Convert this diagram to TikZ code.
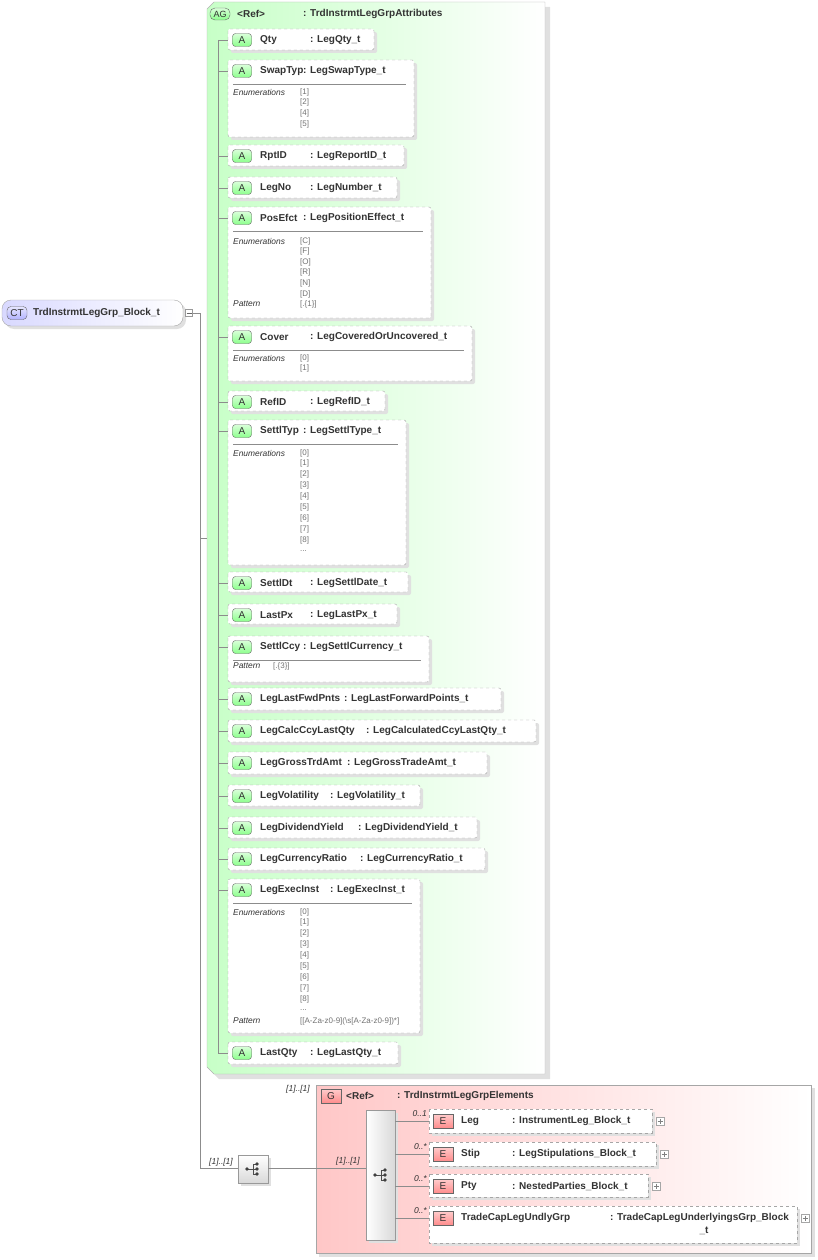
\documentclass[tikz,border=0pt]{standalone}
\usepackage{fontspec}
\setmainfont{Liberation Sans}
\newcommand\myabox[6]{%
 \fill[black!12,rounded corners=2] (231,{#1+3}) rectangle ({#3+3},{#2+3});
 \draw[dbox] (228,#1) rectangle (#3,#2);
 \node[aicon] at (242,{#1+11}) {A};
 \node[lbl,anchor=west] at (260,{#1+11}) {#4};
 \node[lbl,anchor=west] at (#5,{#1+11}) {: #6};
 \draw[ln] (218,{#1+11}) -- (228,{#1+11});}
\newcommand\mysep[2]{\draw[black!45] (233,{#1+24}) -- ({#2-8},{#1+24});}
\newcommand\myenum[1]{\node[smi] at (233,#1) {Enumerations};}
\newcommand\myval[2]{\node[sm] at (300,#1) {#2};}
\newcommand\myseqicon[2]{\begin{scope}[shift={(#1,#2)}]
 \draw[black!70,line width=0.7] (-6,0) -- (0,0) (0,-5) -- (0,5) (0,-5) -- (4,-5) (0,0)--(4,0) (0,5)--(4,5);
 \fill[black!75] (-6,0) circle (1.8) (4,-5) circle (1.8) (4,0) circle (1.8) (4,5) circle (1.8);
 \end{scope}}
\newcommand\myebox[7]{%
 \fill[black!12] (432,{#1+3}) rectangle ({#3+3},{#2+3});
 \draw[dbox,sharp corners] (429,#1) rectangle (#3,#2);
 \node[eicon] at (443,{#1+12}) {E};
 \node[lbl,anchor=west] at (461,{#1+12}) {#4};
 \node[lbl,anchor=west] at (#5,{#1+12}) {#6};
 \draw[ln] (395,{#1+12}) -- (429,{#1+12});
 \node[card,anchor=east] at (427,{#1+5}) {#7};
 \draw[black!35,fill=white] ({#3+4},{#1+8}) rectangle ({#3+12},{#1+16});
 \draw[black!50] ({#3+5.5},{#1+12}) -- ({#3+10.5},{#1+12}) ({#3+8},{#1+9.5}) -- ({#3+8},{#1+14.5});}
\begin{document}
\begin{tikzpicture}[x=1pt,y=-1pt,
 lbl/.style={inner sep=0,font=\fontsize{10}{12}\selectfont\bfseries,text=black!80},
 sm/.style={inner sep=0,font=\fontsize{8}{9}\selectfont,text=black!55,anchor=west},
 smi/.style={inner sep=0,font=\fontsize{8.4}{9}\selectfont\itshape,text=black!80,anchor=west},
 card/.style={inner sep=0,font=\fontsize{8.5}{9}\selectfont\itshape,text=black!80},
 aicon/.style={draw=black!60,top color=green!15!white,bottom color=green!45!white,rounded corners=3,minimum width=19,minimum height=13,inner sep=0,font=\fontsize{10}{11}\selectfont,text=black!80},
 eicon/.style={draw=black!60,top color=red!20!white,bottom color=red!45!white,minimum width=20,minimum height=14,inner sep=0,font=\fontsize{10}{11}\selectfont,text=black!80},
 ln/.style={draw=black!45,line width=0.6},
 dbox/.style={draw=black!35,dashed,fill=white,rounded corners=2}]
\useasboundingbox (0,0) rectangle (818,1260);
% AG container
\fill[black!12] (212,7) -- (550,7) -- (550,1079) -- (219,1079) -- (212,1072) -- cycle;
\shade[left color=green!22!white,right color=white,draw=black!30]
 (214,2) -- (545,2) -- (545,1074) -- (214,1074) -- (207,1067) -- (207,9) -- cycle;
\node[aicon,rounded corners=5,minimum width=20,minimum height=12,font=\fontsize{9}{10}\selectfont] (ag) at (220,14) {AG};
\node[lbl,anchor=west] (agref) at (237,14) {<Ref>};
\node[lbl,anchor=west] (agtype) at (303,14) {: TrdInstrmtLegGrpAttributes};
\draw[ln] (218,40) -- (218,1053);
\myabox{29}{50}{374}{Qty}{310}{LegQty\_t}
\myabox{60}{137}{414}{SwapTyp}{303}{LegSwapType\_t}\mysep{60}{414}
\myenum{92}\myval{92}{[1]}\myval{102.7}{[2]}\myval{113.4}{[4]}\myval{124.1}{[5]}
\myabox{145}{166}{404}{RptID}{310}{LegReportID\_t}
\myabox{177}{198}{397}{LegNo}{310}{LegNumber\_t}
\myabox{207}{318}{431}{PosEfct}{303}{LegPositionEffect\_t}\mysep{207}{431}
\myenum{241}\myval{241}{[C]}\myval{251.6}{[F]}\myval{262.2}{[O]}\myval{272.8}{[R]}\myval{283.4}{[N]}\myval{294}{[D]}
\node[smi] at (233,304) {Pattern};\myval{304}{[.\{1\}]}
\myabox{326}{381}{472}{Cover}{310}{LegCoveredOrUncovered\_t}\mysep{326}{472}
\myenum{358}\myval{358}{[0]}\myval{368.5}{[1]}
\myabox{391}{411}{385}{RefID}{310}{LegRefID\_t}
\myabox{420}{565}{406}{SettlTyp}{303}{LegSettlType\_t}\mysep{420}{406}
\myenum{453}\myval{453}{[0]}\myval{463.9}{[1]}\myval{474.8}{[2]}\myval{485.7}{[3]}\myval{496.6}{[4]}\myval{507.5}{[5]}\myval{518.4}{[6]}\myval{529.3}{[7]}\myval{540.2}{[8]}\myval{551}{...}
\myabox{572}{592}{408}{SettlDt}{310}{LegSettlDate\_t}
\myabox{604}{624}{397}{LastPx}{310}{LegLastPx\_t}
\myabox{636}{682}{429}{SettlCcy}{303}{LegSettlCurrency\_t}\mysep{636}{429}
\node[smi] at (233,666) {Pattern};\node[sm] at (273,666) {[.\{3\}]};
\myabox{688}{710}{501}{LegLastFwdPnts}{344}{LegLastForwardPoints\_t}
\myabox{720}{742}{536}{LegCalcCcyLastQty}{366}{LegCalculatedCcyLastQty\_t}
\myabox{752}{774}{487}{LegGrossTrdAmt}{347}{LegGrossTradeAmt\_t}
\myabox{785}{806}{420}{LegVolatility}{330}{LegVolatility\_t}
\myabox{817}{838}{477}{LegDividendYield}{358}{LegDividendYield\_t}
\myabox{848}{870}{485}{LegCurrencyRatio}{360}{LegCurrencyRatio\_t}
\myabox{879}{1033}{420}{LegExecInst}{330}{LegExecInst\_t}\mysep{879}{420}
\myenum{912}\myval{912}{[0]}\myval{922.9}{[1]}\myval{933.8}{[2]}\myval{944.7}{[3]}\myval{955.6}{[4]}\myval{966.5}{[5]}\myval{977.4}{[6]}\myval{988.3}{[7]}\myval{999.2}{[8]}\myval{1010}{...}
\node[smi] at (233,1021) {Pattern};\myval{1021}{[[A-Za-z0-9](\textbackslash s[A-Za-z0-9])*]}
\myabox{1042}{1064}{398}{LastQty}{310}{LegLastQty\_t}
% CT node
\fill[black!12,rounded corners=9] (5,303) rectangle (186,329);
\shade[left color=blue!15!white,right color=white,draw=black!35,rounded corners=9] (2,300) rectangle (183,326);
\node[aicon,top color=blue!10!white,bottom color=blue!30!white,rounded corners=4,minimum width=20,minimum height=13] (ct) at (17,313) {CT};
\node[lbl,anchor=west] (ctn) at (33,313) {TrdInstrmtLegGrp\_Block\_t};
\node[draw=black!40,fill=white,minimum size=7,inner sep=0] (minus) at (189,313) {};
\draw[black!60] (186.5,313) -- (191.5,313);
\draw[ln] (minus.east) -- (200,313) -- (200,1168);
\draw[ln] (200,538) -- (207,538);
% sequence 1
\fill[black!12] (241,1158) rectangle (271,1186);
\shade[top color=white,bottom color=black!15,draw=black!40] (238,1155) rectangle (268,1183);
\myseqicon{253}{1169}
\draw[ln] (200,1168) -- (238,1168);
\node[card] (c1) at (221,1162) {[1]..[1]};
% G container
\fill[black!12] (319,1088) rectangle (815,1257);
\shade[left color=red!22!white,right color=white,draw=black!35] (316,1085) rectangle (811,1253);
\node[eicon] (g) at (331,1096) {G};
\node[lbl,anchor=west] (gref) at (346,1096) {<Ref>};
\node[lbl,anchor=west] (gtype) at (397,1096) {: TrdInstrmtLegGrpElements};
\node[card] (c2) at (298,1089) {[1]..[1]};
\fill[black!12] (369,1113) rectangle (398,1243);
\shade[left color=white,right color=black!15,draw=black!40] (366,1110) rectangle (395,1240);
\myseqicon{381}{1175}
\draw[ln] (268,1168) -- (366,1168);
\node[card] (c3) at (348,1161) {[1]..[1]};
\myebox{1109}{1133}{652}{Leg}{512}{: InstrumentLeg\_Block\_t}{0..1}
\myebox{1142}{1166}{656}{Stip}{512}{: LegStipulations\_Block\_t}{0..*}
\myebox{1174}{1197}{648}{Pty}{512}{: NestedParties\_Block\_t}{0..*}
\myebox{1206}{1243}{797}{TradeCapLegUndlyGrp}{610}{: TradeCapLegUnderlyingsGrp\_Block}{0..*}
\node[lbl] (tail) at (704,1231) {\_t};
\end{tikzpicture}
\end{document}
